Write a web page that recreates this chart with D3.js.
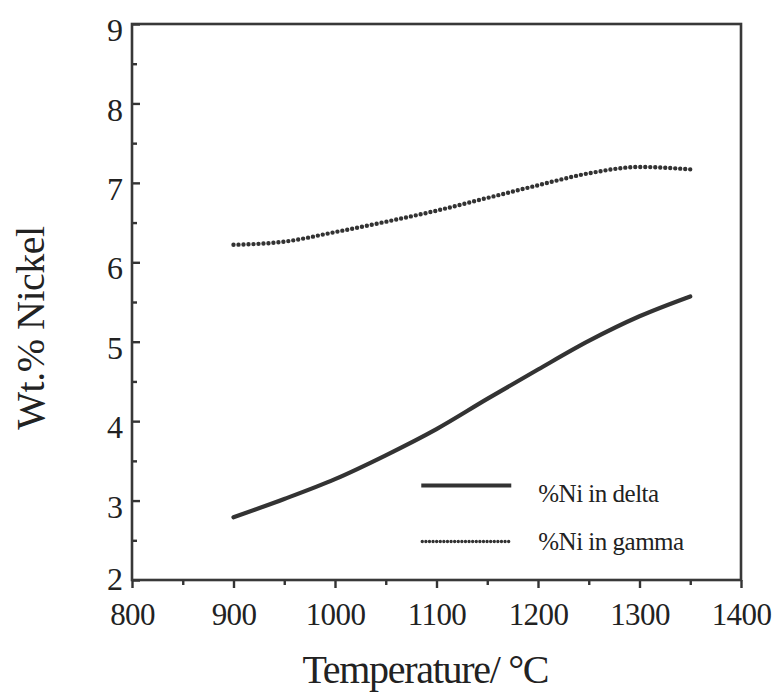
<!DOCTYPE html>
<html>
<head>
<meta charset="utf-8">
<script src="https://cdn.jsdelivr.net/npm/d3@7"></script>
<style>
  body { margin: 0; background: #fff; }
  svg text { font-family: "Liberation Serif", "DejaVu Serif", serif; fill: #222; }
  .axis path { display: none; }
  .axis line { stroke: #333; stroke-width: 2.4; }
</style>
</head>
<body>
<div id="chart"></div>
<script>
// temperatures (°C) sampled along both curves
const temps = [900, 950, 1000, 1050, 1100, 1150, 1200, 1250, 1300, 1350];
const niDelta = [2.79, 3.02, 3.27, 3.57, 3.90, 4.28, 4.65, 5.01, 5.32, 5.57];
const niGamma = [6.22, 6.26, 6.38, 6.51, 6.65, 6.81, 6.97, 7.12, 7.20, 7.17];

const xTicks = [800, 900, 1000, 1100, 1200, 1300, 1400];
const xMinor = [850, 950, 1050, 1150, 1250, 1350];
const yTicks = [2, 3, 4, 5, 6, 7, 8, 9];
const yMinor = [2.5, 3.5, 4.5, 5.5, 6.5, 7.5, 8.5];

const seriesNames = ['%Ni in delta', '%Ni in gamma'];

const W = 772, H = 694;
const margin = { top: 24, right: 31, bottom: 114, left: 132 };
const width = W - margin.left - margin.right;
const height = H - margin.top - margin.bottom;

const svg = d3.select('#chart').append('svg')
  .attr('width', W)
  .attr('height', H);

const plot = svg.append('g')
  .attr('transform', `translate(${margin.left},${margin.top})`);

const x = d3.scaleLinear().domain([800, 1400]).range([0, width]);
const y = d3.scaleLinear().domain([2, 9]).range([height, 0]);

// bottom axis: ticks point outward
plot.append('g')
  .attr('class', 'axis x')
  .attr('transform', `translate(0,${height})`)
  .call(d3.axisBottom(x).tickValues(xTicks).tickSize(8).tickSizeOuter(0).tickPadding(15).tickFormat(d3.format('d')))
  .selectAll('text')
  .style('font-size', '31px')
  .attr('letter-spacing', '-0.6');

plot.append('g')
  .attr('class', 'axis x-minor')
  .attr('transform', `translate(0,${height})`)
  .call(d3.axisBottom(x).tickValues(xMinor).tickSize(5).tickSizeOuter(0).tickFormat(''));

// left axis: ticks point inward
plot.append('g')
  .attr('class', 'axis y')
  .call(d3.axisLeft(y).tickValues(yTicks).tickSize(-8).tickSizeOuter(0).tickPadding(9).tickFormat(d3.format('d')))
  .selectAll('text')
  .style('font-size', '32px')
  .attr('dy', (d) => (d === 2 ? '0.3em' : '0.52em'));

plot.append('g')
  .attr('class', 'axis y-minor')
  .call(d3.axisLeft(y).tickValues(yMinor).tickSize(-5).tickSizeOuter(0).tickFormat(''));

// frame
plot.append('rect')
  .attr('x', 0)
  .attr('y', 0)
  .attr('width', width)
  .attr('height', height)
  .attr('fill', 'none')
  .attr('stroke', '#383838')
  .attr('stroke-width', 2.6);

const line = d3.line()
  .x((d) => x(d[0]))
  .y((d) => y(d[1]))
  .curve(d3.curveMonotoneX);

plot.append('path')
  .attr('class', 'delta')
  .attr('d', line(temps.map((t, i) => [t, niDelta[i]])))
  .attr('fill', 'none')
  .attr('stroke', '#333')
  .attr('stroke-width', 4.2)
  .attr('stroke-linecap', 'round');

plot.append('path')
  .attr('class', 'gamma')
  .attr('d', line(temps.map((t, i) => [t, niGamma[i]])))
  .attr('fill', 'none')
  .attr('stroke', '#333')
  .attr('stroke-width', 4.4)
  .attr('stroke-dasharray', '0 5')
  .attr('stroke-linecap', 'round');

// legend
const legend = plot.append('g')
  .attr('transform', `translate(${x(1085)},${y(3.19)})`);

legend.append('line')
  .attr('x1', 0).attr('x2', 90).attr('y1', 0).attr('y2', 0)
  .attr('stroke', '#333').attr('stroke-width', 4.2);

legend.append('line')
  .attr('x1', 1).attr('x2', 88).attr('y1', 56).attr('y2', 56)
  .attr('stroke', '#333').attr('stroke-width', 3.4)
  .attr('stroke-dasharray', '0 3.6').attr('stroke-linecap', 'round');

legend.selectAll('text.lbl')
  .data(seriesNames)
  .join('text')
  .attr('class', 'lbl')
  .attr('x', 117)
  .attr('y', (d, i) => 17 + i * 48)
  .style('font-size', '25px')
  .attr('letter-spacing', '-0.5')
  .text((d) => d);

// axis titles
svg.append('text')
  .attr('x', margin.left + x(1089))
  .attr('y', 683)
  .attr('text-anchor', 'middle')
  .style('font-size', '40px')
  .attr('letter-spacing', '-1.3')
  .text('Temperature/ °C');

svg.append('text')
  .attr('transform', `translate(44,${328}) rotate(-90)`)
  .attr('text-anchor', 'middle')
  .style('font-size', '40px')
  .attr('letter-spacing', '-0.5')
  .text('Wt.% Nickel');
</script>
</body>
</html>
